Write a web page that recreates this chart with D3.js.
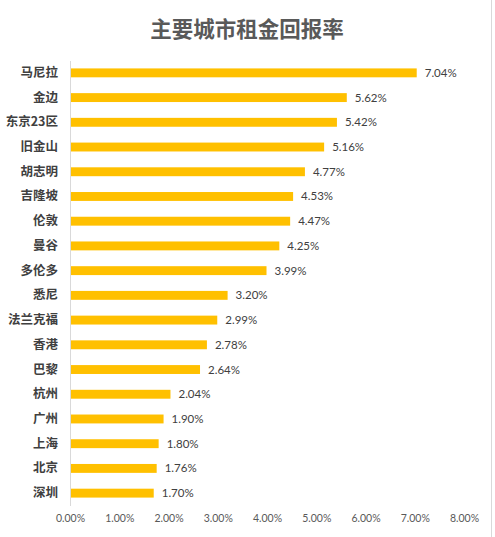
<!DOCTYPE html>
<html>
<head>
<meta charset="utf-8">
<script src="https://cdn.jsdelivr.net/npm/d3@7"></script>
<style>
  body { margin: 0; background: #fff; }
  svg { display: block; font-family: "Noto Sans CJK SC", "Microsoft YaHei", sans-serif; }
</style>
</head>
<body>
<svg id="chart"></svg>
<script>
// Data
var cities = ["马尼拉", "金边", "东京23区", "旧金山", "胡志明", "吉隆坡", "伦敦", "曼谷", "多伦多",
              "悉尼", "法兰克福", "香港", "巴黎", "杭州", "广州", "上海", "北京", "深圳"];
var yields = [7.04, 5.62, 5.42, 5.16, 4.77, 4.53, 4.47, 4.25, 3.99,
              3.20, 2.99, 2.78, 2.64, 2.04, 1.90, 1.80, 1.76, 1.70];
var xTicks = [0, 1, 2, 3, 4, 5, 6, 7, 8];

var width = 495, height = 537;
var svg = d3.select("#chart").attr("width", width).attr("height", height);

// Chart border (right edge visible)
svg.append("line")
  .attr("x1", 491.5).attr("x2", 491.5)
  .attr("y1", 0).attr("y2", height)
  .attr("stroke", "#d9d9d9");

// Scales
var x = d3.scaleLinear().domain([0, 8]).range([70, 464]);
var y = d3.scaleBand().domain(cities).range([60.5, 505.5]).paddingInner(0.64).paddingOuter(0.32);

// Title
svg.append("text")
  .attr("x", 247)
  .attr("y", 36.5)
  .attr("text-anchor", "middle")
  .attr("fill", "#595959")
  .attr("font-size", 21.5)
  .attr("font-weight", "bold")
  .text("主要城市租金回报率");

// Bars
svg.selectAll(".bar")
  .data(yields)
  .enter().append("rect")
  .attr("class", "bar")
  .attr("x", x(0))
  .attr("y", function(d, i) { return y(cities[i]); })
  .attr("width", function(d) { return x(d) - x(0); })
  .attr("height", y.bandwidth())
  .attr("fill", "#FFC000");

// Value labels
svg.selectAll(".value-label")
  .data(yields)
  .enter().append("text")
  .attr("class", "value-label")
  .attr("x", function(d) { return x(d) + 8; })
  .attr("y", function(d, i) { return y(cities[i]) + y.bandwidth() / 2; })
  .attr("dy", "0.35em")
  .attr("fill", "#404040")
  .attr("font-size", 11.5)
  .attr("font-family", "Lato, 'Liberation Sans', sans-serif")
  .text(function(d) { return d.toFixed(2) + "%"; });

// Y axis (category labels)
var yAxis = d3.axisLeft(y).tickSize(0).tickPadding(12);
var gy = svg.append("g")
  .attr("transform", "translate(" + x(0) + ",0)")
  .call(yAxis);
gy.select(".domain").attr("stroke", "#d9d9d9");
gy.selectAll("text")
  .attr("fill", "#404040")
  .attr("font-size", 12.5)
  .attr("font-weight", "bold")
  .attr("font-family", "'Noto Sans CJK SC', sans-serif");

// X axis (tick labels only)
var xAxis = d3.axisBottom(x)
  .tickValues(xTicks)
  .tickSize(0)
  .tickPadding(0)
  .tickFormat(function(d) { return d.toFixed(2) + "%"; });
var gx = svg.append("g")
  .attr("transform", "translate(0,515)")
  .call(xAxis);
gx.select(".domain").remove();
gx.selectAll("text")
  .attr("fill", "#595959")
  .attr("font-size", 10.5)
  .attr("font-family", "Lato, 'Liberation Sans', sans-serif");
</script>
</body>
</html>
